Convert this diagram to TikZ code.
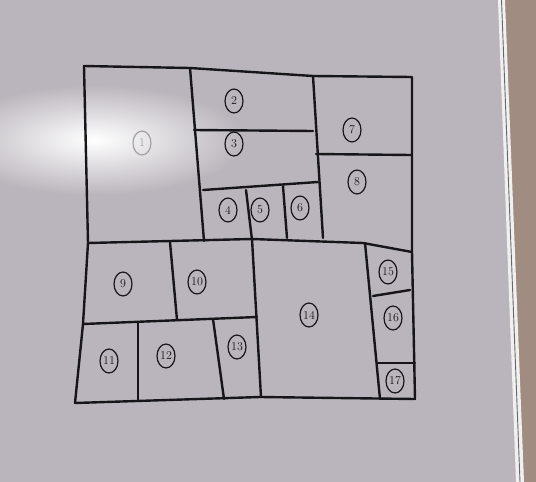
\documentclass[tikz,border=0pt]{standalone}
\usetikzlibrary{shapes.geometric}
\definecolor{board}{RGB}{186,181,188}
\definecolor{wood}{RGB}{160,140,128}
\definecolor{ink}{RGB}{22,22,26}
\tikzset{
  pen/.style={draw=ink, line width=2.4pt, line join=round, line cap=round},
  num/.style={draw=ink, ellipse, line width=1.2pt, minimum width=18pt, minimum height=24pt, inner sep=0pt, font=\large, text=ink},
}
\begin{document}
\begin{tikzpicture}[x=1pt,y=-1pt]
\useasboundingbox (0,0) rectangle (536,482);
% background: whiteboard, frame, wall
\fill[board] (0,0) rectangle (536,482);
\shade[inner color=white, outer color=board] (95,140) ellipse (150 and 55);
\fill[wood] (504,0) -- (536,0) -- (536,482) -- (523,482) -- cycle;
\fill[white!80!board] (498,0) -- (505,0) -- (524,482) -- (516,482) -- cycle;
\draw[ink!65, line width=0.9pt] (501.5,0) -- (520,482);
% outer frame
\draw[pen] (84,66) -- (190,68) -- (313,76) -- (412,77) -- (412,252) -- (415,399)
  -- (260,397) -- (75,403) -- (83,324) -- (88,243) -- cycle;
% upper part
\draw[pen] (190,68) -- (204,241);
\draw[pen] (194,130) -- (313,131);
\draw[pen] (313,76) -- (323,238);
\draw[pen] (203,190) -- (318,182);
\draw[pen] (246,190) -- (252,240);
\draw[pen] (283,186) -- (287,238);
\draw[pen] (316,154) -- (411,155);
% middle line
\draw[pen] (88,243) -- (252,239) -- (363,243) -- (412,252);
% lower part
\draw[pen] (170,242) -- (177,320);
\draw[pen] (83,324) -- (257,317);
\draw[pen] (252,239) -- (261,397);
\draw[pen] (138,322) -- (138,400);
\draw[pen] (213,319) -- (224,399);
\draw[pen] (365,243) -- (380,399);
\draw[pen] (373,296) -- (410,290);
\draw[pen] (378,363) -- (415,363);
% labels
\node[num, draw=ink!40, text=ink!40] (n1) at (142,143) {1};
\node[num] (n2) at (234,101) {2};
\node[num] (n3) at (234,144) {3};
\node[num] (n4) at (228,210) {4};
\node[num] (n5) at (260,210) {5};
\node[num] (n6) at (300,208) {6};
\node[num] (n7) at (352,130) {7};
\node[num] (n8) at (357,182) {8};
\node[num] (n9) at (123,284) {9};
\node[num] (n10) at (197,282) {10};
\node[num] (n11) at (109,361) {11};
\node[num] (n12) at (166,356) {12};
\node[num] (n13) at (237,347) {13};
\node[num] (n14) at (309,315) {14};
\node[num] (n15) at (388,272) {15};
\node[num] (n16) at (393,318) {16};
\node[num] (n17) at (395,381) {17};
\end{tikzpicture}
\end{document}
